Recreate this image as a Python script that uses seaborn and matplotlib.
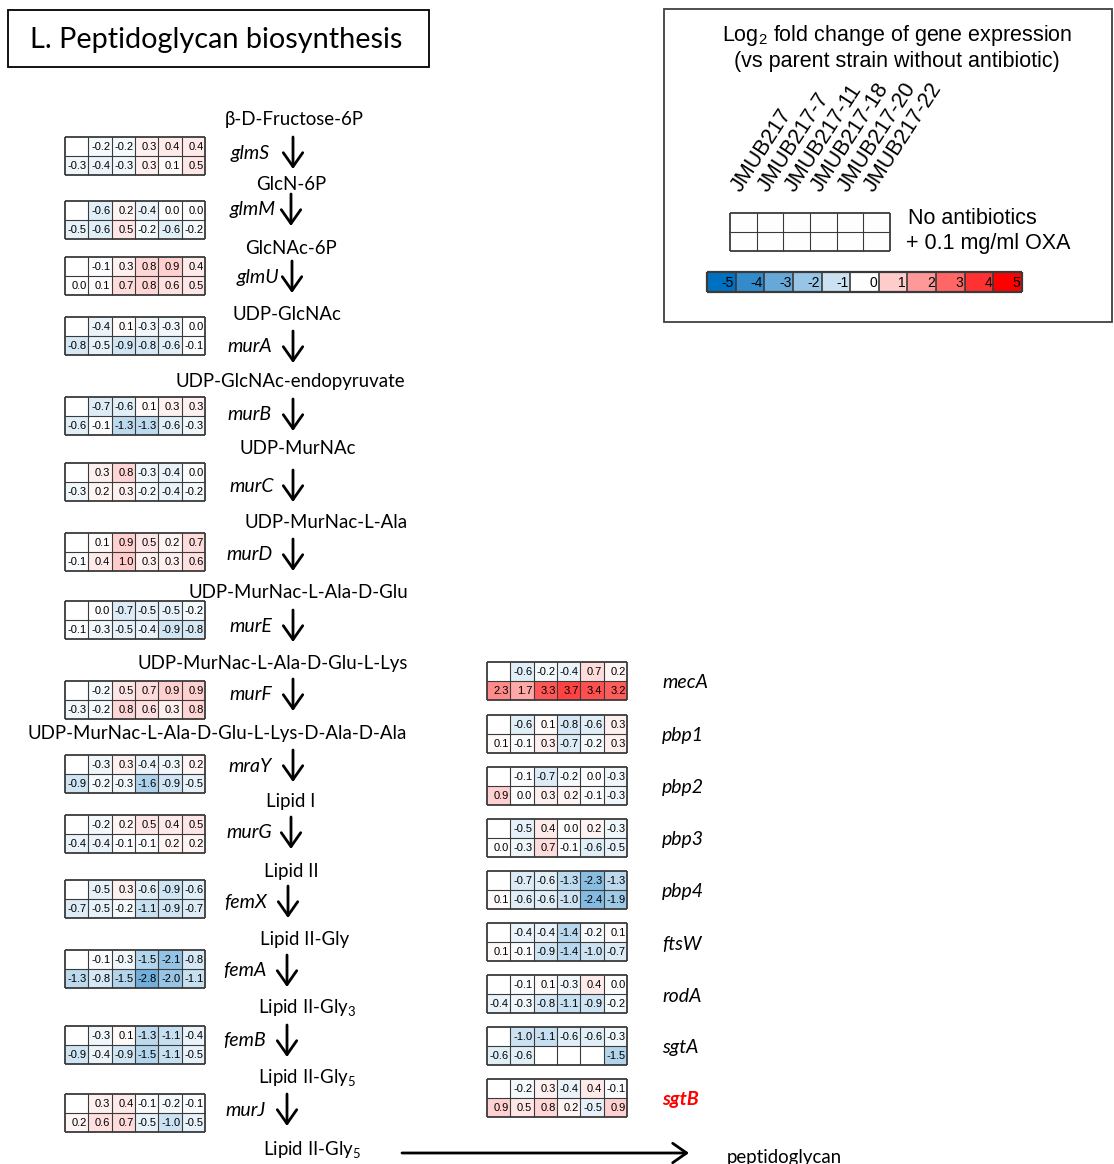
import numpy as np
import matplotlib
matplotlib.use("Agg")
import matplotlib.pyplot as plt
import seaborn as sns
from matplotlib.colors import LinearSegmentedColormap
from matplotlib.patches import Rectangle

nan = np.nan

# strains (columns) and conditions (rows) of every small heatmap
strains = ["JMUB217", "JMUB217-7", "JMUB217-11", "JMUB217-18", "JMUB217-20", "JMUB217-22"]
conditions = ["No antibiotics", "+ 0.1 mg/ml OXA"]

# log2 fold change, row 0 = no antibiotics, row 1 = + 0.1 mg/ml OXA
glmS = [[nan, -0.2, -0.2, 0.3, 0.4, 0.4], [-0.3, -0.4, -0.3, 0.3, 0.1, 0.5]]
glmM = [[nan, -0.6, 0.2, -0.4, 0.0, 0.0], [-0.5, -0.6, 0.5, -0.2, -0.6, -0.2]]
glmU = [[nan, -0.1, 0.3, 0.8, 0.9, 0.4], [0.0, 0.1, 0.7, 0.8, 0.6, 0.5]]
murA = [[nan, -0.4, 0.1, -0.3, -0.3, 0.0], [-0.8, -0.5, -0.9, -0.8, -0.6, -0.1]]
murB = [[nan, -0.7, -0.6, 0.1, 0.3, 0.3], [-0.6, -0.1, -1.3, -1.3, -0.6, -0.3]]
murC = [[nan, 0.3, 0.8, -0.3, -0.4, 0.0], [-0.3, 0.2, 0.3, -0.2, -0.4, -0.2]]
murD = [[nan, 0.1, 0.9, 0.5, 0.2, 0.7], [-0.1, 0.4, 1.0, 0.3, 0.3, 0.6]]
murE = [[nan, 0.0, -0.7, -0.5, -0.5, -0.2], [-0.1, -0.3, -0.5, -0.4, -0.9, -0.8]]
murF = [[nan, -0.2, 0.5, 0.7, 0.9, 0.9], [-0.3, -0.2, 0.8, 0.6, 0.3, 0.8]]
mraY = [[nan, -0.3, 0.3, -0.4, -0.3, 0.2], [-0.9, -0.2, -0.3, -1.6, -0.9, -0.5]]
murG = [[nan, -0.2, 0.2, 0.5, 0.4, 0.5], [-0.4, -0.4, -0.1, -0.1, 0.2, 0.2]]
femX = [[nan, -0.5, 0.3, -0.6, -0.9, -0.6], [-0.7, -0.5, -0.2, -1.1, -0.9, -0.7]]
femA = [[nan, -0.1, -0.3, -1.5, -2.1, -0.8], [-1.3, -0.8, -1.5, -2.8, -2.0, -1.1]]
femB = [[nan, -0.3, 0.1, -1.3, -1.1, -0.4], [-0.9, -0.4, -0.9, -1.5, -1.1, -0.5]]
murJ = [[nan, 0.3, 0.4, -0.1, -0.2, -0.1], [0.2, 0.6, 0.7, -0.5, -1.0, -0.5]]

mecA = [[nan, -0.6, -0.2, -0.4, 0.7, 0.2], [2.3, 1.7, 3.3, 3.7, 3.4, 3.2]]
pbp1 = [[nan, -0.6, 0.1, -0.8, -0.6, 0.3], [0.1, -0.1, 0.3, -0.7, -0.2, 0.3]]
pbp2 = [[nan, -0.1, -0.7, -0.2, 0.0, -0.3], [0.9, 0.0, 0.3, 0.2, -0.1, -0.3]]
pbp3 = [[nan, -0.5, 0.4, 0.0, 0.2, -0.3], [0.0, -0.3, 0.7, -0.1, -0.6, -0.5]]
pbp4 = [[nan, -0.7, -0.6, -1.3, -2.3, -1.3], [0.1, -0.6, -0.6, -1.0, -2.4, -1.9]]
ftsW = [[nan, -0.4, -0.4, -1.4, -0.2, 0.1], [0.1, -0.1, -0.9, -1.4, -1.0, -0.7]]
rodA = [[nan, -0.1, 0.1, -0.3, 0.4, 0.0], [-0.4, -0.3, -0.8, -1.1, -0.9, -0.2]]
sgtA = [[nan, -1.0, -1.1, -0.6, -0.6, -0.3], [-0.6, -0.6, nan, nan, nan, -1.5]]
sgtB = [[nan, -0.2, 0.3, -0.4, 0.4, -0.1], [0.9, 0.5, 0.8, 0.2, -0.5, 0.9]]

pathway_genes = ["glmS", "glmM", "glmU", "murA", "murB", "murC", "murD", "murE",
                 "murF", "mraY", "murG", "femX", "femA", "femB", "murJ"]
pathway_values = [glmS, glmM, glmU, murA, murB, murC, murD, murE,
                  murF, mraY, murG, femX, femA, femB, murJ]
side_genes = ["mecA", "pbp1", "pbp2", "pbp3", "pbp4", "ftsW", "rodA", "sgtA", "sgtB"]
side_values = [mecA, pbp1, pbp2, pbp3, pbp4, ftsW, rodA, sgtA, sgtB]

metabolites = ["\u03b2-D-Fructose-6P", "GlcN-6P", "GlcNAc-6P", "UDP-GlcNAc",
               "UDP-GlcNAc-endopyruvate", "UDP-MurNAc", "UDP-MurNac-L-Ala",
               "UDP-MurNac-L-Ala-D-Glu", "UDP-MurNac-L-Ala-D-Glu-L-Lys",
               "UDP-MurNac-L-Ala-D-Glu-L-Lys-D-Ala-D-Ala", "Lipid I", "Lipid II",
               "Lipid II-Gly", "Lipid II-Gly$_{\\mathregular{3}}$",
               "Lipid II-Gly$_{\\mathregular{5}}$", "Lipid II-Gly$_{\\mathregular{5}}$"]
scale_ticks = [-5, -4, -3, -2, -1, 0, 1, 2, 3, 4, 5]

# ---------------------------------------------------------------- layout
W, H = 1114, 1164
fig = plt.figure(figsize=(W / 100, H / 100), dpi=100)
fig.patch.set_facecolor("white")

cmap = LinearSegmentedColormap.from_list("bwr_fc", ["#0070C0", "#FFFFFF", "#FF0000"])
GRID = "#3a3a3a"
PATH_FONT = ["Lato", "DejaVu Sans"]
SANS = ["Liberation Sans", "DejaVu Sans"]
PATH_SIZE = 13.4
LEG_SIZE = 15.5

canvas = fig.add_axes([0, 0, 1, 1])
canvas.set_xlim(0, W)
canvas.set_ylim(H, 0)
canvas.axis("off")


def px_axes(x, y, w, h):
    return fig.add_axes([x / W, 1 - (y + h) / H, w / W, h / H])


def cell_grid(ax, nrow, ncol, lw_in=0.8, lw_out=1.3):
    for k in range(ncol + 1):
        ax.vlines(k, 0, nrow, color=GRID, lw=lw_out if k in (0, ncol) else lw_in, clip_on=False)
    for k in range(nrow + 1):
        ax.hlines(k, 0, ncol, color=GRID, lw=lw_out if k in (0, nrow) else lw_in, clip_on=False)


def fold_heatmap(x, y, values, w=140, h=38):
    ax = px_axes(x, y, w, h)
    data = np.array(values, dtype=float)
    sns.heatmap(data, ax=ax, cmap=cmap, vmin=-5, vmax=5, cbar=False,
                annot=True, fmt=".1f", xticklabels=False, yticklabels=False,
                annot_kws=dict(size=8, color="black", family=SANS))
    for t in ax.texts:
        tx, ty = t.get_position()
        t.set_position((tx + 0.44, ty + 0.04))
        t.set_ha("right")
    cell_grid(ax, 2, 6)
    return ax


# title box
canvas.add_patch(Rectangle((8, 10), 421, 57, fill=False, ec="black", lw=1.3))
canvas.text(30, 40, "L. Peptidoglycan biosynthesis", fontsize=20.8, family=PATH_FONT,
            ha="left", va="center")

# pathway heatmaps, gene names and arrows
left_tops = [137, 201, 257, 317, 397, 463, 533, 601, 681, 755, 815, 880, 950, 1026, 1094]
gene_y = [153, 210, 277, 347, 415, 486, 555, 626, 695, 766, 833, 902, 971, 1041, 1110]
gene_right = [270, 276, 279, 272, 272, 274, 273, 272, 272, 272, 272, 267, 266, 266, 266]
arrow_x = [293, 291, 292, 293, 293, 293, 293, 293, 293, 293, 291, 288, 287, 287, 287]
for vals, top in zip(pathway_values, left_tops):
    fold_heatmap(65, top, vals)
for name, gy, gr, ax_ in zip(pathway_genes, gene_y, gene_right, arrow_x):
    canvas.text(gr, gy, name, fontsize=14, style="italic", family=PATH_FONT,
                ha="right", va="center")
    canvas.annotate("", xy=(ax_, gy + 16), xytext=(ax_, gy - 16),
                    arrowprops=dict(arrowstyle="->,head_length=0.5,head_width=0.35",
                                    lw=2.0, color="black", mutation_scale=20,
                                    shrinkA=0, shrinkB=0))

# metabolites: (anchor x, y, alignment)
met_pos = [(294, 120, "center"), (291, 185, "center"), (291, 248, "center"),
           (287, 314, "center"), (290, 381, "center"), (298, 449, "center"),
           (408, 523, "right"), (408, 593, "right"), (408, 663, "right"),
           (407, 733, "right"), (291, 802, "center"), (291, 871, "center"),
           (305, 939, "center"), (307, 1008, "center"), (307, 1078, "center"),
           (312, 1150, "center")]
for name, (mx, my, ha) in zip(metabolites, met_pos):
    canvas.text(mx, my, name, fontsize=PATH_SIZE, family=PATH_FONT, ha=ha, va="center")

canvas.annotate("", xy=(689, 1153), xytext=(402, 1153),
                arrowprops=dict(arrowstyle="->,head_length=0.5,head_width=0.35",
                                lw=2.0, color="black", mutation_scale=20,
                                shrinkA=0, shrinkB=0))
canvas.text(727, 1157, "peptidoglycan", fontsize=PATH_SIZE, family=PATH_FONT,
            ha="left", va="center")

# transpeptidases / glycosyltransferases
right_tops = [662, 715, 767, 819, 871, 923, 975, 1027, 1079]
for name, vals, top in zip(side_genes, side_values, right_tops):
    fold_heatmap(487, top, vals)
    red = name == "sgtB"
    canvas.text(662, top + 21, name, fontsize=14, style="italic", family=PATH_FONT,
                ha="left", va="center", color="#FF0000" if red else "black",
                weight="bold" if red else "normal")

# legend box
canvas.add_patch(Rectangle((664, 9), 448, 313, fill=False, ec="#404040", lw=1.3))
canvas.text(897, 36, "Log$_{\\mathregular{2}}$ fold change of gene expression",
            fontsize=LEG_SIZE, family=SANS, ha="center", va="center")
canvas.text(897, 61, "(vs parent strain without antibiotic)", fontsize=LEG_SIZE,
            family=SANS, ha="center", va="center")
for k, s in enumerate(strains):
    canvas.text(741 + 26.6 * k, 193, s, fontsize=LEG_SIZE, family=SANS, rotation=57,
                rotation_mode="anchor", ha="left", va="baseline")

lg = px_axes(730, 213, 160, 38)
sns.heatmap(np.zeros((2, 6)), ax=lg, cmap=cmap, vmin=-5, vmax=5, cbar=False,
            xticklabels=False, yticklabels=False)
cell_grid(lg, 2, 6)
canvas.text(908, 219, conditions[0], fontsize=LEG_SIZE, family=SANS, ha="left", va="center")
canvas.text(906, 243, conditions[1], fontsize=LEG_SIZE, family=SANS, ha="left", va="center")

cb = px_axes(707, 272, 315, 20)
sns.heatmap(np.array([scale_ticks]), ax=cb, cmap=cmap, vmin=-5, vmax=5, cbar=False,
            annot=True, fmt="d", xticklabels=False, yticklabels=False,
            annot_kws=dict(size=10, color="black", family=SANS))
for t in cb.texts:
    tx, ty = t.get_position()
    t.set_position((tx + 0.45, ty + 0.04))
    t.set_ha("right")
cell_grid(cb, 1, 11, lw_in=1.2, lw_out=1.6)

fig.savefig("out.png", dpi=100, facecolor="white")
